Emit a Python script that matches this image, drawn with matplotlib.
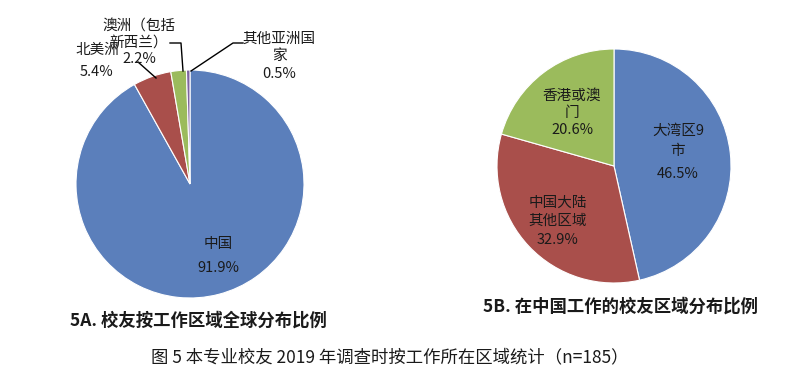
import matplotlib
matplotlib.use("Agg")
import matplotlib.pyplot as plt

plt.rcParams['font.family'] = ['Noto Sans CJK SC', 'DejaVu Sans']

# Data
global_labels = ["中国", "北美洲", "澳洲（包括\n新西兰）", "其他亚洲国\n家"]
global_values = [91.9, 5.4, 2.2, 0.5]
china_labels = ["大湾区9\n市", "中国大陆\n其他区域", "香港或澳\n门"]
china_values = [46.5, 32.9, 20.6]

title_a = "5A. 校友按工作区域全球分布比例"
title_b = "5B. 在中国工作的校友区域分布比例"
caption = "图 5 本专业校友 2019 年调查时按工作所在区域统计（n=185）"

colors_a = ["#5B7FBB", "#A94F4B", "#9BBB5C", "#7E63A0"]
colors_b = ["#5B7FBB", "#A94F4B", "#9BBB5C"]

W, H = 800, 390
fig = plt.figure(figsize=(8, 3.9), dpi=100)
fig.patch.set_facecolor("white")


def add_pie_axes(cx, cy, r):
    ax = fig.add_axes([(cx - r) / W, 1 - (cy + r) / H, 2 * r / W, 2 * r / H])
    ax.set_axis_off()
    return ax


def px(x, y):
    return (x / W, 1 - y / H)


# Left pie
axA = add_pie_axes(190, 184, 114)
axA.pie(global_values, colors=colors_a, startangle=90, counterclock=False,
        radius=1, wedgeprops=dict(edgecolor="white", linewidth=0.8))
axA.set_xlim(-1, 1)
axA.set_ylim(-1, 1)

fs = 10.5
tc = "#1a1a1a"
# labels for left pie
fig.text(*px(218, 244), global_labels[0], ha="center", va="center", fontsize=fs, color=tc)
fig.text(*px(218, 268), f"{global_values[0]}%", ha="center", va="center", fontsize=fs, color=tc)

fig.text(*px(97, 50), global_labels[1], ha="center", va="center", fontsize=fs, color=tc)
fig.text(*px(97, 72), f"{global_values[1]}%", ha="center", va="center", fontsize=fs, color=tc)

fig.text(*px(139, 34), global_labels[2], ha="center", va="center", fontsize=fs, color=tc,
         linespacing=1.3)
fig.text(*px(139, 59), f"{global_values[2]}%", ha="center", va="center", fontsize=fs, color=tc)

fig.text(*px(279, 47), global_labels[3], ha="center", va="center", fontsize=fs, color=tc,
         linespacing=1.3)
fig.text(*px(279, 74), f"{global_values[3]}%", ha="center", va="center", fontsize=fs, color=tc)

# leader lines (figure pixel coords)
def line(xs, ys):
    fig.add_artist(plt.Line2D([x / W for x in xs], [1 - y / H for y in ys],
                              color="black", linewidth=1.0))

line([138, 156], [62, 78])
line([170, 181, 183], [43, 43, 71])
line([191, 233, 243], [71, 43, 43])

# Right pie
axB = add_pie_axes(614, 166, 117)
axB.pie(china_values, colors=colors_b, startangle=90, counterclock=False,
        radius=1, wedgeprops=dict(edgecolor="white", linewidth=0.8))
axB.set_xlim(-1, 1)
axB.set_ylim(-1, 1)

fig.text(*px(678, 141), china_labels[0], ha="center", va="center", fontsize=fs, color=tc,
         linespacing=1.5)
fig.text(*px(678, 174), f"{china_values[0]}%", ha="center", va="center", fontsize=fs, color=tc)
fig.text(*px(558, 212), china_labels[1], ha="center", va="center", fontsize=fs, color=tc,
         linespacing=1.3)
fig.text(*px(558, 240), f"{china_values[1]}%", ha="center", va="center", fontsize=fs, color=tc)
fig.text(*px(572, 104), china_labels[2], ha="center", va="center", fontsize=fs, color=tc,
         linespacing=1.3)
fig.text(*px(572, 130), f"{china_values[2]}%", ha="center", va="center", fontsize=fs, color=tc)

# subtitles and caption
fig.text(*px(70, 321), title_a, ha="left", va="center", fontsize=12.5, fontweight="bold", color=tc)
fig.text(*px(483, 307), title_b, ha="left", va="center", fontsize=12.5, fontweight="bold", color=tc)
fig.text(*px(390, 357), caption, ha="center", va="center", fontsize=12.5, color=tc)

fig.savefig("out.png", dpi=100, facecolor="white")
